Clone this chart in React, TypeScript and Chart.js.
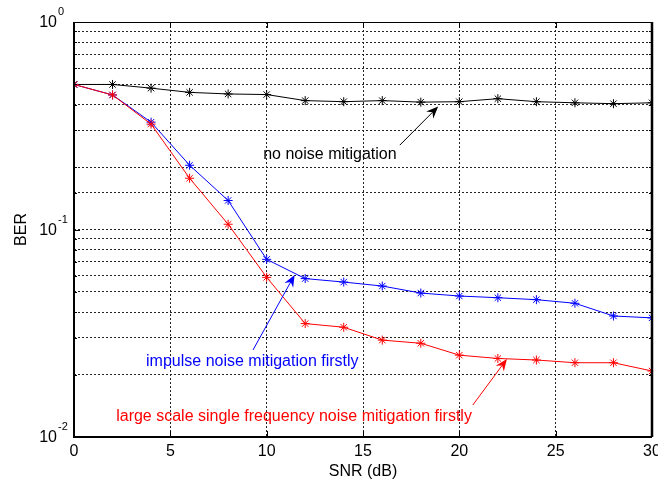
import React, { useEffect, useRef } from 'react';
import { Chart, registerables } from 'chart.js';

Chart.register(...registerables);

const FONT = '"Liberation Sans", Arial, sans-serif';

const snr = [0, 2, 4, 6, 8, 10, 12, 14, 16, 18, 20, 22, 24, 26, 28, 30];
const berNoMitigation = [0.5, 0.5, 0.48, 0.458, 0.45, 0.447, 0.418, 0.413, 0.418, 0.411, 0.413, 0.427, 0.413, 0.408, 0.404, 0.408];
const berImpulseFirst = [0.5, 0.445, 0.329, 0.204, 0.138, 0.0718, 0.058, 0.0558, 0.0534, 0.0494, 0.0478, 0.0469, 0.0459, 0.0441, 0.0383, 0.0375];
const berLargeScaleFirst = [0.5, 0.445, 0.322, 0.1766, 0.106, 0.0588, 0.0352, 0.0338, 0.0293, 0.0283, 0.0248, 0.0239, 0.0235, 0.0228, 0.0228, 0.0208];

const xTickValues = [0, 5, 10, 15, 20, 25, 30];
const yDecadeValues = [0.01, 0.1, 1];
const yDecadeExponents = ['-2', '-1', '0'];

const noteTexts = ['no noise mitigation', 'impulse noise mitigation firstly', 'large scale single frequency noise mitigation firstly'];
const noteColors = ['#000000', '#0000ff', '#ff0000'];
const noteX = [9.82, 3.74, 2.19];
const noteY = [0.2286, 0.0231, 0.01256];
const arrowFromX = [16.91, 9.29, 20.7];
const arrowFromY = [0.255, 0.02625, 0.01426];
const arrowToX = [18.9, 11.45, 22.47];
const arrowToY = [0.391, 0.0604, 0.02377];

const overlayPlugin = {
  id: 'matlabOverlay',
  afterDraw(chart: any) {
    const { ctx, chartArea } = chart;
    const xs = chart.scales.x;
    const ys = chart.scales.y;
    const { left, right, top, bottom } = chartArea;
    ctx.save();
    ctx.strokeStyle = '#000';
    ctx.setLineDash([]);
    // inward ticks
    ctx.lineWidth = 1;
    ys.ticks.forEach((t: any) => {
      const y = Math.round(ys.getPixelForValue(t.value)) + 0.5;
      const mant = t.value / Math.pow(10, Math.floor(Math.log10(t.value) + 1e-9));
      const len = Math.abs(mant - 1) < 1e-6 ? 6 : 3;
      ctx.beginPath();
      ctx.moveTo(left, y);
      ctx.lineTo(left + len, y);
      ctx.moveTo(right, y);
      ctx.lineTo(right - len, y);
      ctx.stroke();
    });
    xTickValues.forEach((v) => {
      const x = Math.round(xs.getPixelForValue(v)) + 0.5;
      ctx.beginPath();
      ctx.moveTo(x, bottom);
      ctx.lineTo(x, bottom - 6);
      ctx.moveTo(x, top);
      ctx.lineTo(x, top + 6);
      ctx.stroke();
    });
    // box
    ctx.lineWidth = 1;
    ctx.beginPath();
    ctx.moveTo(left, top + 0.5);
    ctx.lineTo(right, top + 0.5);
    ctx.stroke();
    ctx.lineWidth = 2;
    ctx.beginPath();
    ctx.moveTo(left, top);
    ctx.lineTo(left, bottom);
    ctx.lineTo(right, bottom);
    ctx.stroke();
    ctx.lineWidth = 2.5;
    ctx.beginPath();
    ctx.moveTo(right, top);
    ctx.lineTo(right, bottom);
    ctx.stroke();

    // y tick labels with superscripts
    ctx.fillStyle = '#000';
    yDecadeValues.forEach((v, i) => {
      const y = ys.getPixelForValue(v);
      ctx.font = `16px ${FONT}`;
      ctx.textAlign = 'right';
      ctx.textBaseline = 'middle';
      ctx.fillText('10', left - 17, y + 1);
      ctx.font = `11px ${FONT}`;
      ctx.textAlign = 'left';
      ctx.fillText(yDecadeExponents[i], left - 16, y - 10);
    });

    // annotations
    noteTexts.forEach((txt, i) => {
      const color = noteColors[i];
      ctx.fillStyle = color;
      ctx.strokeStyle = color;
      ctx.font = `16px ${FONT}`;
      ctx.textAlign = 'left';
      ctx.textBaseline = 'middle';
      ctx.fillText(txt, xs.getPixelForValue(noteX[i]), ys.getPixelForValue(noteY[i]));
      const x0 = xs.getPixelForValue(arrowFromX[i]);
      const y0 = ys.getPixelForValue(arrowFromY[i]);
      const x1 = xs.getPixelForValue(arrowToX[i]);
      const y1 = ys.getPixelForValue(arrowToY[i]);
      const ang = Math.atan2(y1 - y0, x1 - x0);
      const L = 12;
      const W = 5;
      const bx = x1 - L * Math.cos(ang);
      const by = y1 - L * Math.sin(ang);
      ctx.lineWidth = 1;
      ctx.beginPath();
      ctx.moveTo(x0, y0);
      ctx.lineTo(bx + 4 * Math.cos(ang), by + 4 * Math.sin(ang));
      ctx.stroke();
      const nx = -Math.sin(ang);
      const ny = Math.cos(ang);
      ctx.beginPath();
      ctx.moveTo(x1, y1);
      ctx.lineTo(bx + W * nx, by + W * ny);
      ctx.lineTo(bx + 4 * Math.cos(ang), by + 4 * Math.sin(ang));
      ctx.lineTo(bx - W * nx, by - W * ny);
      ctx.closePath();
      ctx.fill();
    });
    ctx.restore();
  },
};

export default function App() {
  const ref = useRef<HTMLCanvasElement | null>(null);
  useEffect(() => {
    if (!ref.current) return;
    const mk = (label: string, data: number[], color: string, order: number) => ({
      label,
      data: data.map((v, i) => ({ x: snr[i], y: v })),
      borderColor: color,
      backgroundColor: color,
      borderWidth: 1,
      pointStyle: 'star',
      pointRadius: 4.5,
      pointBorderWidth: 1,
      pointBorderColor: color,
      pointBackgroundColor: color,
      tension: 0,
      order,
    });
    const chart = new Chart(ref.current, {
      type: 'line',
      data: {
        datasets: [
          mk('no noise mitigation', berNoMitigation, '#000000', 2),
          mk('impulse noise mitigation firstly', berImpulseFirst, '#0000ff', 1),
          mk('large scale single frequency noise mitigation firstly', berLargeScaleFirst, '#ff0000', 0),
        ],
      },
      options: {
        animation: false,
        responsive: false,
        maintainAspectRatio: false,
        layout: { padding: { left: 0, top: 22, right: 6, bottom: 0 } },
        plugins: { legend: { display: false }, tooltip: { enabled: false } },
        scales: {
          x: {
            type: 'linear',
            min: 0,
            max: 30,
            afterBuildTicks: (s: any) => {
              s.ticks = xTickValues.map((v) => ({ value: v }));
            },
            afterFit: (s: any) => {
              s.height = 47;
              s.paddingLeft = 0;
              s.paddingRight = 0;
            },
            ticks: { font: { family: FONT, size: 16 }, color: '#000', padding: 5, maxRotation: 0, autoSkip: false },
            grid: { color: '#222', lineWidth: 1, drawTicks: false },
            border: { display: false, dash: [2, 2] },
            title: { display: true, text: 'SNR (dB)', color: '#000', font: { family: FONT, size: 16 }, padding: { top: 0, bottom: 3 } },
          },
          y: {
            type: 'logarithmic',
            min: 0.01,
            max: 1,
            afterFit: (s: any) => {
              s.width = 74;
              s.paddingTop = 0;
              s.paddingBottom = 0;
            },
            ticks: { callback: () => '', autoSkip: false, font: { family: FONT, size: 16 } },
            grid: { color: '#222', lineWidth: 1, drawTicks: false },
            border: { display: false, dash: [2, 2] },
            title: { display: true, text: 'BER', color: '#000', font: { family: FONT, size: 16 }, padding: { top: 12, bottom: 0 } },
          },
        },
      },
      plugins: [overlayPlugin],
    } as any);
    return () => chart.destroy();
  }, []);
  return (
    <div style={{ position: 'absolute', left: 0, top: 0, width: 658, height: 484, background: '#fff' }}>
      <canvas ref={ref} width={658} height={484} style={{ display: 'block' }} />
    </div>
  );
}
